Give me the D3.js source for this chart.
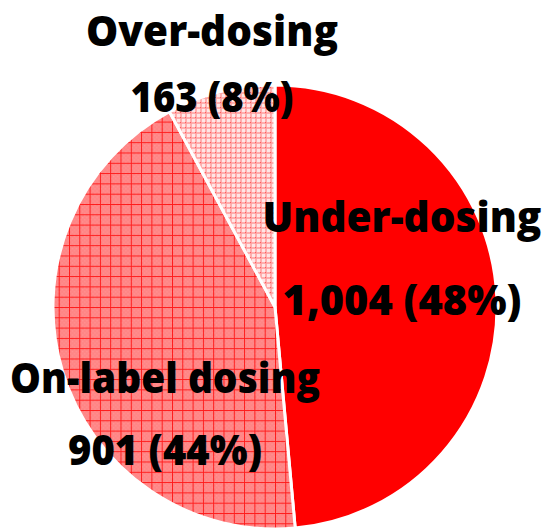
<!DOCTYPE html>
<html>
<head>
<meta charset="utf-8">
<script src="https://cdn.jsdelivr.net/npm/d3@7"></script>
<style>
  body { margin: 0; background: #fff; }
  text { font-family: "Open Sans", sans-serif; font-weight: 800; }
</style>
</head>
<body>
<script>
// chart values
const categories = ["Under-dosing", "On-label dosing", "Over-dosing"];
const counts = [1004, 901, 163];
const shares = ["48%", "44%", "8%"];

let w = 547, h = 529;
let cx = 275, cy = 307, r = 222;

let svg = d3.select("body").append("svg")
    .attr("width", w)
    .attr("height", h);

let defs = svg.append("defs");

// fine checker + grid for on-label dosing
let p1 = defs.append("pattern")
    .attr("id", "grid")
    .attr("patternUnits", "userSpaceOnUse")
    .attr("width", 10.3).attr("height", 10.3);
p1.append("rect").attr("width", 10.3).attr("height", 10.3).attr("fill", "#ff8585");
for (let i = 0; i < 5; i++) {
    for (let j = 0; j < 5; j++) {
        if ((i + j) % 2 == 0) {
            p1.append("rect").attr("x", 1 + i * 2).attr("y", 1 + j * 2)
                .attr("width", 1).attr("height", 1).attr("fill", "#ff9c9c");
        }
    }
}
p1.append("rect").attr("x", 0).attr("y", 0).attr("width", 10.3).attr("height", 1).attr("fill", "#ff1a1a");
p1.append("rect").attr("x", 0).attr("y", 0).attr("width", 1).attr("height", 10.3).attr("fill", "#ff1a1a");

// plaid for over-dosing
let p2 = defs.append("pattern")
    .attr("id", "plaid")
    .attr("patternUnits", "userSpaceOnUse")
    .attr("width", 5).attr("height", 5);
p2.append("rect").attr("width", 5).attr("height", 5).attr("fill", "#ffe6e6");
p2.append("rect").attr("x", 0).attr("y", 0).attr("width", 5).attr("height", 2).attr("fill", "#ffa0a0").attr("opacity", 0.8);
p2.append("rect").attr("x", 0).attr("y", 0).attr("width", 2).attr("height", 5).attr("fill", "#ffa0a0").attr("opacity", 0.8);
p2.append("rect").attr("x", 0).attr("y", 0).attr("width", 1).attr("height", 1).attr("fill", "#ff5c5c");

let fills = ["#ff0000", "url(#grid)", "url(#plaid)"];

let pie = d3.pie().sort(null).value(d => d);
let arc = d3.arc().innerRadius(0).outerRadius(r);

let g = svg.append("g").attr("transform", "translate(" + cx + "," + cy + ")");

g.selectAll("path")
    .data(pie(counts))
    .enter().append("path")
    .attr("d", arc)
    .attr("fill", (d, i) => fills[i])
    .attr("stroke", "white")
    .attr("stroke-width", 3)
    .attr("stroke-linejoin", "round");

// label placement (centre x, baseline of name, baseline of value, widths)
let labelPos = [
    { x: 402, y1: 232, y2: 315, w1: 279, w2: 239 },
    { x: 165, y1: 393, y2: 465, w1: 310, w2: 194 },
    { x: 212, y1: 46, y2: 112, w1: 252, w2: 163 }
];

// draw a label, squeezed horizontally to the wanted width (Calibri-like)
function addLabel(str, x, y, width) {
    let t = svg.append("g")
        .append("text")
        .attr("text-anchor", "middle")
        .attr("font-size", 43)
        .text(str);
    let natural = t.node().getComputedTextLength();
    let sx = width / natural;
    d3.select(t.node().parentNode)
        .attr("transform", "translate(" + x + "," + y + ") scale(" + sx + ",1)");
}

categories.forEach(function (c, i) {
    let lp = labelPos[i];
    addLabel(c, lp.x, lp.y1, lp.w1);
    addLabel(d3.format(",")(counts[i]) + " (" + shares[i] + ")", lp.x, lp.y2, lp.w2);
});
</script>
</body>
</html>
